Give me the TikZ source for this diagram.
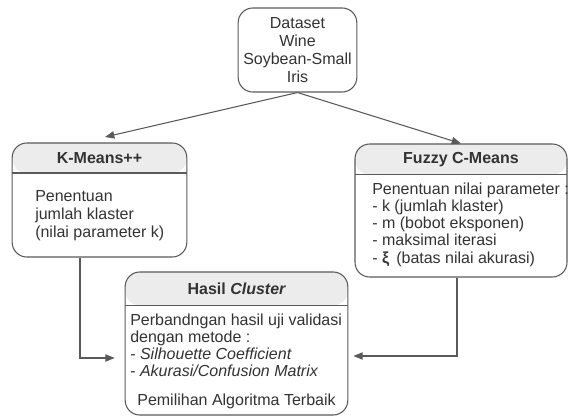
\documentclass[tikz,border=0pt]{standalone}
\usepackage{fontspec}
\setmainfont{Liberation Sans}
\usetikzlibrary{arrows.meta,positioning,calc}

\definecolor{linegray}{HTML}{5A5A5A}
\definecolor{headgray}{HTML}{ECECEC}
\definecolor{textgray}{HTML}{333333}

\begin{document}
\begin{tikzpicture}[
      x=0.75pt, y=-0.75pt,
      every node/.style={text=textgray},
      databox/.style={rectangle, draw=linegray, line width=0.8pt, rounded corners=11pt, minimum width=89pt, minimum height=63pt},
      panel/.style={rectangle, draw=linegray, line width=0.8pt, fill=white, rounded corners=11pt,
        path picture={
          \fill[headgray] (path picture bounding box.north west) rectangle ([yshift=-#1]path picture bounding box.north east);
          \draw[linegray, line width=0.8pt] ([yshift=-#1]path picture bounding box.north west) -- ([yshift=-#1]path picture bounding box.north east);
        }},
      title/.style={font=\fontsize{12}{14}\selectfont\bfseries},
      body/.style={font=\fontsize{12}{13.5}\selectfont, align=left, anchor=west, inner sep=0pt},
      arrow/.style={-{Triangle[length=7pt,width=5.5pt]}, draw=linegray, line width=0.8pt}
    ]
      \useasboundingbox (0,0) rectangle (568,417);

      % Data
      \node[databox, align=center, font=\fontsize{12}{13.5}\selectfont] (dataset) at (297.5,50)
        {Dataset\\Wine\\Soybean-Small\\Iris};

      % Algorithms
      \node[panel=22.5pt, minimum width=131pt, minimum height=85.5pt] (kmeans) at (99.5,200) {};
      \node[title] (kmtitle) at (99.5,158) {K-Means++};
      \node[body] (kmbody) at (35,215.5) {Penentuan\\jumlah klaster\\(nilai parameter k)};

      \node[panel=23pt, minimum width=159pt, minimum height=99.75pt] (fuzzy) at (461,210.5) {};
      \node[title] (fcmtitle) at (461,160) {Fuzzy C-Means};
      \node[body, font=\fontsize{12}{12.9}\selectfont] (fcmbody) at (372,224.5)
        {Penentuan nilai parameter :\\- k (jumlah klaster)\\- m (bobot eksponen)\\- maksimal iterasi\\- {\bfseries ξ}\, (batas nilai akurasi)};

      % Result
      \node[panel=25pt, minimum width=167pt, minimum height=107.25pt] (hasil) at (236.5,343.5) {};
      \node[title] (hasiltitle) at (236.5,289) {Hasil \itshape Cluster};
      \node[body, font=\fontsize{12}{12.75}\selectfont] (hasilbody) at (130,345.5)
        {Perbandngan hasil uji validasi\\dengan metode :\\- \textit{Silhouette Coefficient}\\- \textit{Akurasi/Confusion Matrix}};
      \node[font=\fontsize{12}{13.5}\selectfont] (pilih) at (236.5,401) {Pemilihan Algoritma Terbaik};

      % Arrows
      \coordinate (kmtip) at (105,137);
      \draw[arrow] (dataset.south) -- (kmtip);
      \draw[arrow] (dataset.south) -- (fuzzy.north);
      \draw[arrow] ([shift={(-19.5,0)}]kmeans.south) |- ([shift={(-10,14.5)}]hasil.west);
      \draw[arrow] ([shift={(-4,0)}]fuzzy.south) |- ([shift={(5,12.5)}]hasil.east);

    \end{tikzpicture}
\end{document}
